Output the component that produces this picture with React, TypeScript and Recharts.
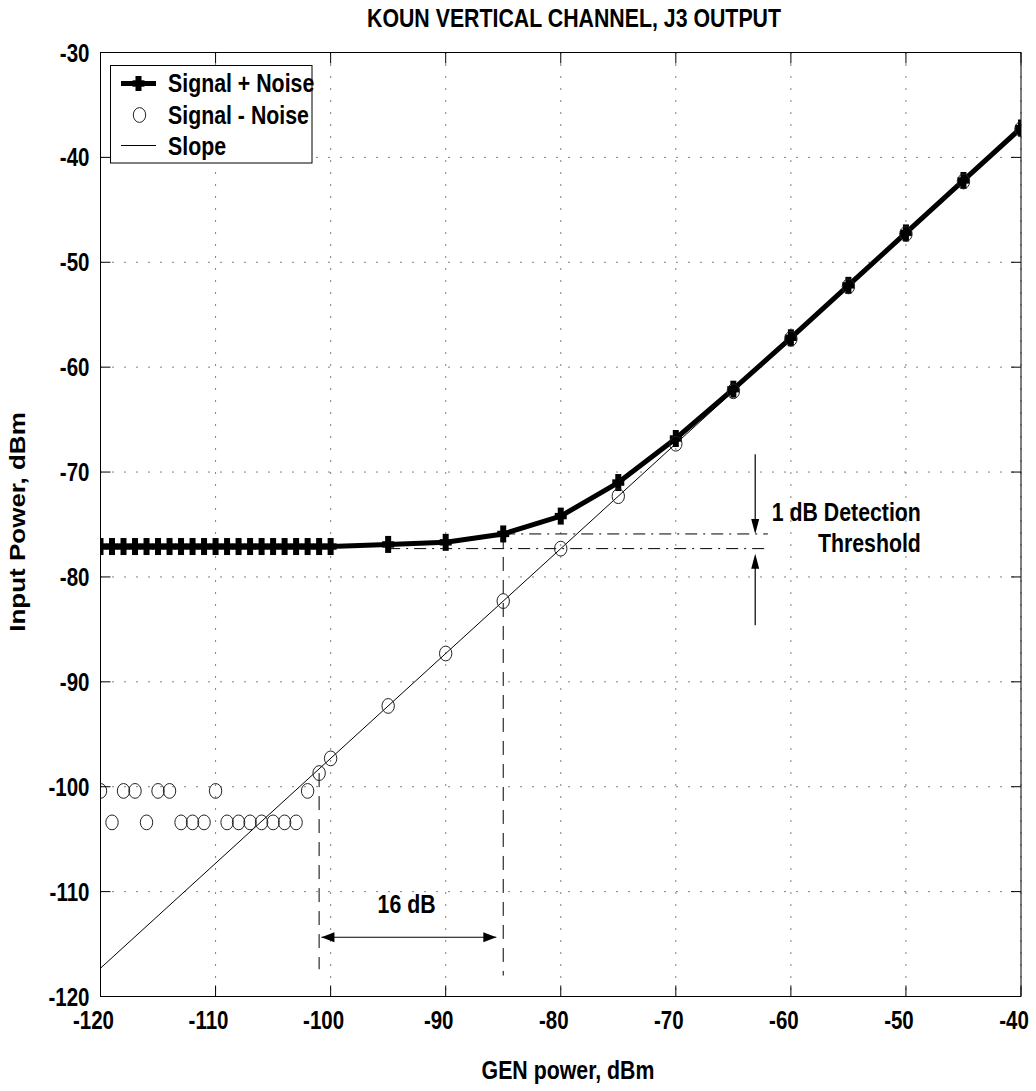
import React from 'react';
import {
  ComposedChart,
  Line,
  Scatter,
  XAxis,
  YAxis,
  CartesianGrid,
  ReferenceLine,
  ReferenceDot,
} from 'recharts';

// ---- axis ticks ----
const X_TICKS = [-120, -110, -100, -90, -80, -70, -60, -50, -40];
const Y_TICKS = [-120, -110, -100, -90, -80, -70, -60, -50, -40, -30];

// ---- Signal + Noise (generator power vs measured input power) ----
const SN_PLUS_GEN = [
  -120, -119, -118, -117, -116, -115, -114, -113, -112, -111, -110,
  -109, -108, -107, -106, -105, -104, -103, -102, -101, -100,
  -95, -90, -85, -80, -75, -70, -65, -60, -55, -50, -45, -40,
];
const SN_PLUS_POWER = [
  -77.1, -77.1, -77.1, -77.1, -77.1, -77.1, -77.1, -77.1, -77.1, -77.1, -77.1,
  -77.1, -77.1, -77.1, -77.1, -77.1, -77.1, -77.1, -77.1, -77.1, -77.1,
  -76.9, -76.7, -75.9, -74.2, -71.0, -66.8, -62.1, -57.2, -52.2, -47.2, -42.2, -37.2,
];

// ---- Signal - Noise ----
const SN_MINUS_GEN = [
  -120, -119, -118, -117, -116, -115, -114, -113, -112, -111, -110,
  -109, -108, -107, -106, -105, -104, -103, -102, -101, -100,
  -95, -90, -85, -80, -75, -70, -65, -60, -55, -50, -45, -40,
];
const SN_MINUS_POWER = [
  -100.4, -103.4, -100.4, -100.4, -103.4, -100.4, -100.4, -103.4, -103.4, -103.4, -100.4,
  -103.4, -103.4, -103.4, -103.4, -103.4, -103.4, -103.4, -100.4, -98.7, -97.3,
  -92.3, -87.3, -82.3, -77.3, -72.3, -67.3, -62.3, -57.3, -52.3, -47.3, -42.3, -37.3,
];

// ---- unit-slope reference line ----
const SLOPE_GEN = [-120, -40];
const SLOPE_POWER = [-117.3, -37.3];

// ---- annotation geometry (data units) ----
const THRESH_UPPER = -75.9; // Signal + Noise at -85 dBm
const THRESH_LOWER = -77.3; // noise floor level
const THRESH_GEN = -85;
const MDS_GEN = -101;
const MDS_POWER = -98.7;
const SPAN_POWER = -114.35;
const SPAN_LEFT = -100.8;
const SPAN_RIGHT = -85.6;
const DASH_BOTTOM = -118;
const ARROW_GEN = -63.1;
const ARROW_TOP = -68.3;
const ARROW_BOTTOM = -84.6;
const ARROW_UP_TIP = -77.8;
const DASH_RIGHT_END = -62;

const ARROW_TIPS = [
  { gen: SPAN_LEFT, power: SPAN_POWER, dir: 'left' },
  { gen: SPAN_RIGHT, power: SPAN_POWER, dir: 'right' },
  { gen: ARROW_GEN, power: THRESH_UPPER, dir: 'down' },
  { gen: ARROW_GEN, power: ARROW_UP_TIP, dir: 'up' },
];

const LEGEND_ITEMS = ['Signal + Noise', 'Signal - Noise', 'Slope'];

const TITLE = 'KOUN VERTICAL CHANNEL, J3 OUTPUT';
const X_LABEL = 'GEN power, dBm';
const Y_LABEL = 'Input Power, dBm';

const plusData = SN_PLUS_GEN.map((gen, i) => ({ gen, power: SN_PLUS_POWER[i] }));
const minusData = SN_MINUS_GEN.map((gen, i) => ({ gen, power: SN_MINUS_POWER[i] }));
const slopeData = SLOPE_GEN.map((gen, i) => ({ gen, power: SLOPE_POWER[i] }));

const FONT = "'Liberation Sans', Arial, Helvetica, sans-serif";
const SQUEEZE = 0.82;

function SqueezedText(props: {
  x: number;
  y: number;
  anchor?: 'start' | 'middle' | 'end';
  size?: number;
  rotate?: boolean;
  children: React.ReactNode;
}) {
  const { x, y, anchor = 'start', size = 26, rotate = false, children } = props;
  const t = rotate
    ? `translate(${x} ${y}) scale(${SQUEEZE} 1) rotate(-90)`
    : `translate(${x} ${y}) scale(${SQUEEZE} 1)`;
  return (
    <text
      transform={t}
      textAnchor={anchor}
      fontFamily={FONT}
      fontWeight="bold"
      fontSize={size}
      fill="#000"
    >
      {children}
    </text>
  );
}

function Cross({ cx, cy, h = 17, w = 12 }: { cx: number; cy: number; h?: number; w?: number }) {
  return (
    <g fill="#000">
      <rect x={cx - 3} y={cy - h / 2} width={6} height={h} />
      <rect x={cx - w / 2} y={cy - 3.2} width={w} height={6.4} />
    </g>
  );
}

function Ring({ cx, cy }: { cx: number; cy: number }) {
  return <ellipse cx={cx} cy={cy} rx={6.2} ry={7.4} fill="none" stroke="#222" strokeWidth={1} />;
}

const renderCross = (p: any) => {
  if (p.cx == null || p.cy == null) return <g key={`c-${p.index}`} />;
  return <Cross key={`c-${p.index}`} cx={p.cx} cy={p.cy} />;
};

const renderRing = (p: any) => <Ring cx={p.cx} cy={p.cy} />;

const renderArrowHead = (p: any) => {
  const { cx, cy } = p;
  const dir = p.payload?.dir ?? p.dir;
  let pts = '';
  if (dir === 'down') pts = `${cx},${cy} ${cx - 4},${cy - 15} ${cx + 4},${cy - 15}`;
  else if (dir === 'up') pts = `${cx},${cy} ${cx - 4},${cy + 15} ${cx + 4},${cy + 15}`;
  else if (dir === 'left') pts = `${cx},${cy} ${cx + 13},${cy - 5} ${cx + 13},${cy + 5}`;
  else pts = `${cx},${cy} ${cx - 13},${cy - 5} ${cx - 13},${cy + 5}`;
  return <polygon points={pts} fill="#000" />;
};

// Axis ticks point into the plot box; labels sit outside.
const BottomTick = (p: any) => (
  <g>
    <line x1={p.x} x2={p.x} y1={p.y} y2={p.y - 11} stroke="#000" strokeWidth={1} />
    <SqueezedText x={p.x - 7} y={p.y + 32} anchor="middle" size={25}>
      {p.payload.value}
    </SqueezedText>
  </g>
);
const TopTick = (p: any) => (
  <line x1={p.x} x2={p.x} y1={p.y} y2={p.y + 11} stroke="#000" strokeWidth={1} />
);
const LeftTick = (p: any) => (
  <g>
    <line x1={p.x} x2={p.x + 10} y1={p.y} y2={p.y} stroke="#000" strokeWidth={1} />
    <SqueezedText x={p.x - 11} y={p.y + 9} anchor="end" size={25}>
      {p.payload.value}
    </SqueezedText>
  </g>
);
const RightTick = (p: any) => (
  <line x1={p.x} x2={p.x - 10} y1={p.y} y2={p.y} stroke="#000" strokeWidth={1} />
);

const textAt = (label: string, anchor: 'start' | 'middle' | 'end', dy: number) => (p: any) => (
  <SqueezedText x={p.cx} y={p.cy + dy} anchor={anchor} size={26}>
    {label}
  </SqueezedText>
);

const W = 1036;
const H = 1091;

function LegendBox() {
  const left = 110.5;
  const top = 65.5;
  const rowY = [18, 49.5, 80];
  const textY = [26.5, 58, 89.5];
  return (
    <g transform={`translate(${left} ${top})`}>
      <rect x={0} y={0} width={201.5} height={97.5} fill="#fff" stroke="#000" strokeWidth={1} />
      <line x1={10.5} x2={45.5} y1={rowY[0]} y2={rowY[0]} stroke="#000" strokeWidth={5} />
      <Cross cx={28} cy={rowY[0]} h={15} w={12} />
      <Ring cx={29} cy={rowY[1]} />
      <line x1={10.5} x2={45.5} y1={rowY[2]} y2={rowY[2]} stroke="#000" strokeWidth={1} />
      {LEGEND_ITEMS.map((name, i) => (
        <SqueezedText key={name} x={57.5} y={textY[i]} size={26}>
          {name}
        </SqueezedText>
      ))}
    </g>
  );
}

const axisLine = { stroke: '#000', strokeWidth: 1 };

export default function App() {
  const dashDot = '12 6 2 6';
  const dashed = '14 9';
  return (
    <div style={{ position: 'absolute', left: 0, top: 0, width: W, height: H, background: '#fff' }}>
      <ComposedChart
        width={W}
        height={H}
        margin={{ top: 42.5, right: 5, bottom: 64.5, left: 40.5 }}
      >
        <CartesianGrid stroke="#000" strokeWidth={1} strokeDasharray="1 11" />
        <XAxis
          dataKey="gen"
          type="number"
          domain={[-120, -40]}
          ticks={X_TICKS}
          interval={0}
          height={30}
          tickSize={0}
          tickMargin={0}
          tickLine={false}
          axisLine={axisLine}
          tick={BottomTick}
          allowDataOverflow
        />
        <XAxis
          xAxisId="top"
          orientation="top"
          dataKey="gen"
          type="number"
          domain={[-120, -40]}
          ticks={X_TICKS}
          interval={0}
          height={10}
          tickSize={0}
          tickMargin={0}
          tickLine={false}
          axisLine={axisLine}
          tick={TopTick}
          allowDataOverflow
        />
        <YAxis
          dataKey="power"
          type="number"
          domain={[-120, -30]}
          ticks={Y_TICKS}
          interval={0}
          width={60}
          tickSize={0}
          tickMargin={0}
          tickLine={false}
          axisLine={axisLine}
          tick={LeftTick}
          allowDataOverflow
        />
        <YAxis
          yAxisId="right"
          orientation="right"
          dataKey="power"
          type="number"
          domain={[-120, -30]}
          ticks={Y_TICKS}
          interval={0}
          width={10}
          tickSize={0}
          tickMargin={0}
          tickLine={false}
          axisLine={axisLine}
          tick={RightTick}
          allowDataOverflow
        />

        {/* detection-threshold guides */}
        <ReferenceLine
          segment={[{ x: THRESH_GEN, y: THRESH_UPPER }, { x: DASH_RIGHT_END, y: THRESH_UPPER }]}
          stroke="#000"
          strokeWidth={1}
          strokeDasharray={dashDot}
        />
        <ReferenceLine
          segment={[{ x: -95, y: THRESH_LOWER }, { x: DASH_RIGHT_END, y: THRESH_LOWER }]}
          stroke="#000"
          strokeWidth={1}
          strokeDasharray={dashDot}
        />
        <ReferenceLine
          segment={[{ x: THRESH_GEN, y: THRESH_UPPER }, { x: THRESH_GEN, y: DASH_BOTTOM }]}
          stroke="#000"
          strokeWidth={1}
          strokeDasharray={dashed}
        />
        <ReferenceLine
          segment={[{ x: MDS_GEN, y: MDS_POWER }, { x: MDS_GEN, y: -117.4 }]}
          stroke="#000"
          strokeWidth={1}
          strokeDasharray={dashed}
        />
        {/* arrow shafts */}
        <ReferenceLine
          segment={[{ x: SPAN_LEFT, y: SPAN_POWER }, { x: SPAN_RIGHT, y: SPAN_POWER }]}
          stroke="#000"
          strokeWidth={1.2}
        />
        <ReferenceLine
          segment={[{ x: ARROW_GEN, y: ARROW_TOP }, { x: ARROW_GEN, y: THRESH_UPPER + 1 }]}
          stroke="#000"
          strokeWidth={1.2}
        />
        <ReferenceLine
          segment={[{ x: ARROW_GEN, y: ARROW_BOTTOM }, { x: ARROW_GEN, y: ARROW_UP_TIP - 1 }]}
          stroke="#000"
          strokeWidth={1.2}
        />

        <Line
          data={slopeData}
          dataKey="power"
          name="Slope"
          stroke="#000"
          strokeWidth={1}
          dot={false}
          activeDot={false}
          isAnimationActive={false}
        />
        <Line
          data={plusData}
          dataKey="power"
          name="Signal + Noise"
          stroke="#000"
          strokeWidth={5}
          strokeLinejoin="round"
          dot={renderCross}
          activeDot={false}
          isAnimationActive={false}
        />
        <Scatter
          data={minusData}
          dataKey="power"
          name="Signal - Noise"
          shape={renderRing}
          isAnimationActive={false}
        />
        <Scatter
          data={ARROW_TIPS}
          dataKey="power"
          shape={renderArrowHead}
          legendType="none"
          isAnimationActive={false}
        />

        <ReferenceDot x={-93.4} y={-111.2} r={0} shape={textAt('16 dB', 'middle', 9)} />
        <ReferenceDot x={-48.7} y={-73.8} r={0} shape={textAt('1 dB Detection', 'end', 9)} />
        <ReferenceDot x={-48.7} y={-76.8} r={0} shape={textAt('Threshold', 'end', 9)} />
      </ComposedChart>

      <svg
        width={W}
        height={H}
        style={{ position: 'absolute', left: 0, top: 0, pointerEvents: 'none' }}
      >
        <SqueezedText x={574} y={27} anchor="middle" size={26}>
          {TITLE}
        </SqueezedText>
        <SqueezedText x={568} y={1079} anchor="middle" size={26}>
          {X_LABEL}
        </SqueezedText>
        <SqueezedText x={25} y={522} anchor="middle" size={26} rotate>
          {Y_LABEL}
        </SqueezedText>
        <LegendBox />
      </svg>
    </div>
  );
}
